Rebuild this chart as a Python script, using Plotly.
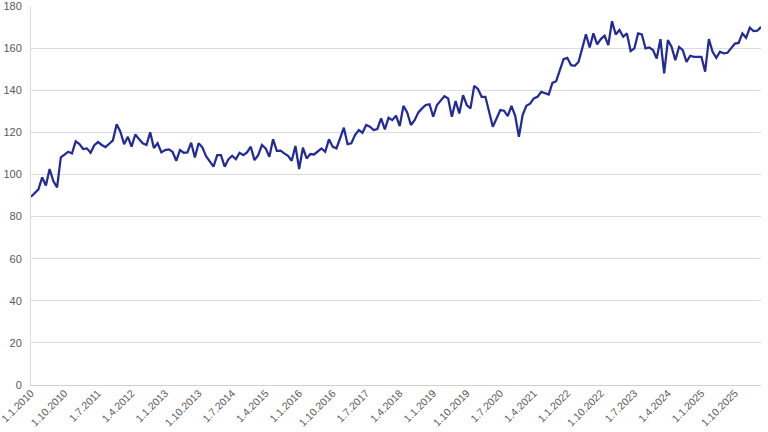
import plotly.graph_objects as go

# Monthly categories Jan 2010 .. May 2026
start_year = 2010
n_months = 197
categories = [f"1.{(i % 12) + 1}.{start_year + i // 12}" for i in range(n_months)]

values = [
    89.4, 91.2, 92.9, 98.6, 94.8, 102.6, 96.9, 93.9, 108.1, 109.4,
    110.8, 110.0, 115.7, 114.4, 112.1, 112.4, 110.3, 113.9, 115.4, 114.0,
    113.0, 114.6, 116.2, 123.9, 120.3, 114.4, 117.9, 113.2, 119.0, 116.8,
    114.8, 114.0, 120.0, 112.6, 114.8, 110.5, 111.6, 111.9, 110.8, 106.5,
    111.6, 110.3, 110.5, 115.1, 108.1, 114.8, 112.9, 108.7, 106.0, 103.7,
    109.2, 109.2, 103.7, 107.2, 108.9, 107.2, 110.3, 109.2, 110.5, 113.2,
    106.8, 109.2, 114.0, 112.4, 108.4, 116.7, 111.2, 111.3, 110.0, 108.9,
    106.5, 113.5, 102.6, 112.7, 107.6, 109.7, 109.5, 110.8, 112.4, 110.8,
    116.7, 113.2, 112.4, 117.2, 122.2, 114.4, 114.8, 118.7, 121.1, 119.8,
    123.5, 122.7, 121.1, 121.6, 126.6, 121.4, 126.9, 125.8, 127.9, 123.0,
    132.6, 129.5, 123.5, 125.8, 129.5, 131.4, 133.0, 133.3, 127.4, 133.0,
    135.3, 137.2, 136.1, 127.4, 134.9, 129.0, 137.7, 133.0, 131.4, 142.1,
    140.6, 136.9, 136.9, 129.0, 122.7, 126.6, 130.6, 130.3, 127.7, 132.6,
    127.9, 117.9, 128.2, 132.6, 133.6, 136.1, 136.9, 139.3, 138.8, 138.0,
    143.5, 144.3, 149.6, 154.8, 155.4, 151.9, 151.6, 153.4, 159.9, 166.6,
    160.3, 167.0, 161.8, 164.3, 165.9, 161.4, 172.8, 166.5, 168.6, 165.4,
    167.0, 158.6, 159.9, 167.0, 166.5, 159.9, 160.3, 159.1, 155.1, 164.3,
    148.0, 163.8, 160.6, 154.3, 160.6, 159.1, 153.5, 156.4, 155.9, 155.9,
    155.9, 148.8, 164.3, 158.3, 155.4, 158.3, 157.5, 157.8, 160.3, 162.2,
    162.5, 167.0, 164.9, 169.7, 168.1, 168.3, 170.1,
]

tick_labels = ["1.1.2010", "1.10.2010", "1.7.2011", "1.4.2012", "1.1.2013",
               "1.10.2013", "1.7.2014", "1.4.2015", "1.1.2016", "1.10.2016",
               "1.7.2017", "1.4.2018", "1.1.2019", "1.10.2019", "1.7.2020",
               "1.4.2021", "1.1.2022", "1.10.2022", "1.7.2023", "1.4.2024",
               "1.1.2025", "1.10.2025"]

y_ticks = [0, 20, 40, 60, 80, 100, 120, 140, 160, 180]

fig = go.Figure()
fig.add_trace(go.Scatter(
    x=categories, y=values, mode="lines",
    line=dict(color="#232b97", width=2.25),
    hoverinfo="x+y", showlegend=False,
))

fig.update_layout(
    width=768, height=432,
    margin=dict(l=31, r=7, t=6, b=47, autoexpand=False),
    paper_bgcolor="white", plot_bgcolor="white",
    font=dict(family="Liberation Sans, Arial, sans-serif", size=11, color="#595959"),
)
fig.update_xaxes(
    type="category",
    range=[0, n_months - 1],
    tickmode="array", tickvals=tick_labels, ticktext=tick_labels,
    tickangle=-45, showgrid=False, automargin=False,
    ticklabeloverflow="allow", ticklabelstandoff=-3,
    showline=True, linecolor="#d0d0d0", linewidth=1,
    ticks="", tickfont=dict(size=10.5, color="#595959"),
    fixedrange=True,
)
fig.update_yaxes(
    range=[0, 180.02], tickvals=y_ticks, automargin=False,
    ticklabeloverflow="allow",
    showgrid=True, gridcolor="#d9dde3", gridwidth=1,
    showline=True, linecolor="#d9dde3", linewidth=1,
    zeroline=False, ticks="", ticklabelstandoff=6,
    tickfont=dict(size=11, color="#595959"),
    fixedrange=True,
)

fig.write_html(
    "out.html",
    config={"displayModeBar": False},
    post_script="document.body.style.margin='0';document.body.style.overflow='hidden';",
)
